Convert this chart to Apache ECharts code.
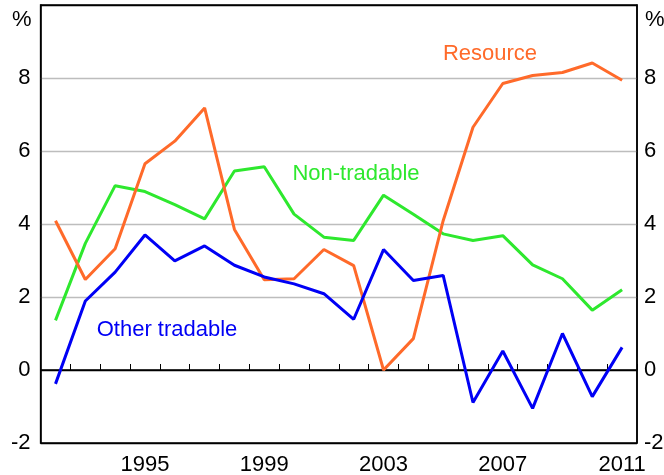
<!DOCTYPE html>
<html>
<head>
<meta charset="utf-8">
<script src="https://cdn.jsdelivr.net/npm/echarts@6/dist/echarts.min.js"></script>
<style>
  html, body { margin: 0; padding: 0; background: #fff; }
  #chart { width: 664px; height: 475px; }
</style>
</head>
<body>
<div id="chart"></div>
<script>
// years 1992 - 2011
const years = ['1992', '1993', '1994', '1995', '1996', '1997', '1998', '1999', '2000', '2001',
  '2002', '2003', '2004', '2005', '2006', '2007', '2008', '2009', '2010', '2011']
const resource = [4.09, 2.48, 3.32, 5.65, 6.27, 7.18, 3.85, 2.47, 2.5, 3.3,
  2.86, 0.0, 0.86, 4.09, 6.65, 7.85, 8.07, 8.15, 8.41, 7.94]
const nonTradable = [1.36, 3.47, 5.05, 4.89, 4.53, 4.14, 5.45, 5.57, 4.27, 3.64,
  3.55, 4.79, 4.27, 3.73, 3.55, 3.68, 2.88, 2.5, 1.64, 2.2]
const otherTradable = [-0.38, 1.89, 2.68, 3.7, 2.99, 3.4, 2.87, 2.55, 2.36, 2.09,
  1.39, 3.3, 2.45, 2.59, -0.89, 0.52, -1.05, 1.0, -0.73, 0.62]
const shownYears = ['1995', '1999', '2003', '2007', '2011']

const FONT = 'Liberation Sans, Arial, sans-serif'
const ORANGE = '#FF6A2A'
const GREEN = '#2EE82E'
const BLUE = '#0000F5'
const FS = 22

const chart = echarts.init(document.getElementById('chart'))

const yAxisBase = {
  type: 'value',
  min: -2,
  max: 10,
  interval: 2,
  axisLine: { show: true, lineStyle: { color: '#000', width: 1.5 } },
  axisTick: { show: false },
  splitLine: { show: false },
  axisLabel: {
    color: '#000',
    fontSize: FS,
    fontFamily: FONT,
    formatter: (v) => (v === 10 ? '' : String(v))
  }
}

function line (name, data, color) {
  return {
    name: name,
    type: 'line',
    data: data,
    symbol: 'none',
    lineStyle: { color: color, width: 3 },
    itemStyle: { color: color },
    animation: false
  }
}

const option = {
  backgroundColor: '#fff',
  animation: false,
  grid: {
    left: 40.6,
    right: 27,
    top: 5,
    bottom: 32,
    containLabel: false,
    outerBoundsMode: 'none',
    show: true,
    borderColor: '#000',
    borderWidth: 1.5
  },
  xAxis: {
    type: 'category',
    data: years,
    boundaryGap: true,
    axisLine: { show: true, lineStyle: { color: '#000', width: 1.5 } },
    axisTick: { show: true, inside: true, length: 6, lineStyle: { color: '#000' }, interval: 0 },
    axisLabel: {
      color: '#000',
      fontSize: FS,
      fontFamily: FONT,
      margin: 11,
      interval: (i, v) => shownYears.includes(v)
    },
    splitLine: { show: false }
  },
  yAxis: [
    Object.assign({}, yAxisBase, {
      position: 'left',
      axisLabel: Object.assign({}, yAxisBase.axisLabel, { margin: 10 }),
      splitLine: {
        show: true,
        lineStyle: { color: ['#000', '#000', '#bdbdbd', '#bdbdbd', '#bdbdbd', '#bdbdbd', '#000'], width: 1.3 }
      }
    }),
    Object.assign({}, yAxisBase, {
      position: 'right',
      axisLabel: Object.assign({}, yAxisBase.axisLabel, { margin: 7 })
    })
  ],
  series: [
    line('Non-tradable', nonTradable, GREEN),
    line('Resource', resource, ORANGE),
    line('Other tradable', otherTradable, BLUE)
  ],
  graphic: [
    { type: 'text', left: 12, top: 9, style: { text: '%', fontSize: FS, fontFamily: FONT, fill: '#000' } },
    { type: 'text', left: 645, top: 9, style: { text: '%', fontSize: FS, fontFamily: FONT, fill: '#000' } },
    { type: 'text', x: 490, y: 54, style: { text: 'Resource', fontSize: FS, fontFamily: FONT, fill: ORANGE, align: 'center', verticalAlign: 'middle' } },
    { type: 'text', x: 356, y: 174, style: { text: 'Non-tradable', fontSize: FS, fontFamily: FONT, fill: GREEN, align: 'center', verticalAlign: 'middle' } },
    { type: 'text', x: 167, y: 330, style: { text: 'Other tradable', fontSize: FS, fontFamily: FONT, fill: BLUE, align: 'center', verticalAlign: 'middle' } }
  ]
}

chart.setOption(option)
</script>
</body>
</html>
